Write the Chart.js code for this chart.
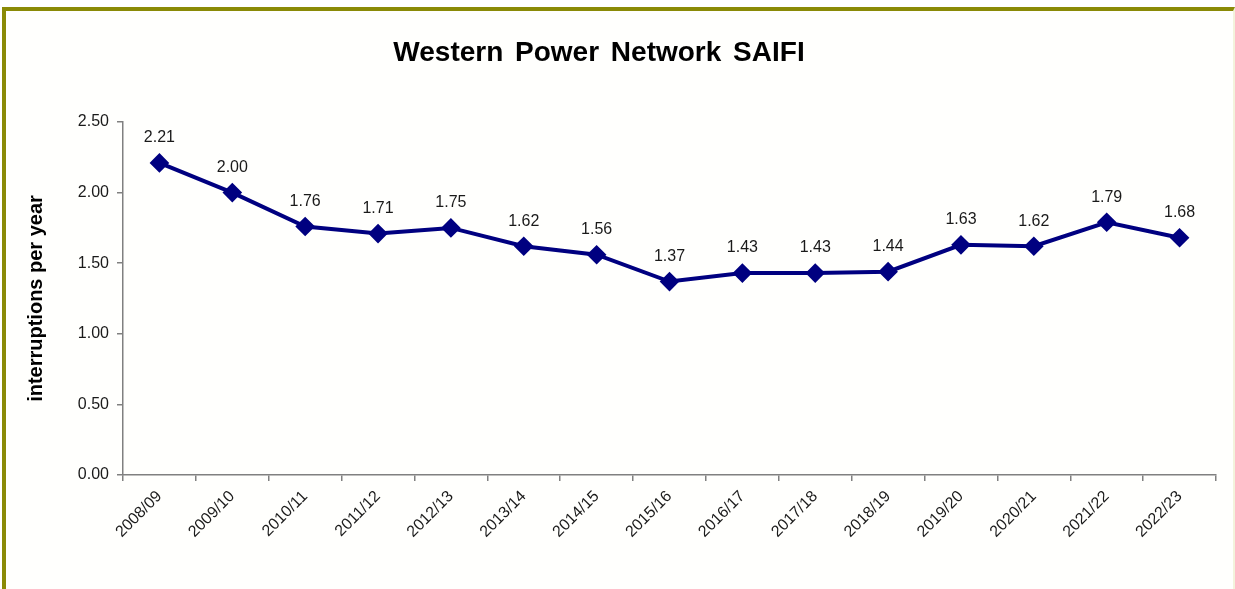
<!DOCTYPE html>
<html>
<head>
<meta charset="utf-8">
<script src="https://cdn.jsdelivr.net/npm/chart.js@4/dist/chart.umd.min.js"></script>
<style>
html,body{margin:0;padding:0;background:#ffffff;}
#frame{position:absolute;left:2px;top:7px;width:1227px;height:600px;border-left:4px solid #8a8a06;border-top:4px solid #8a8a06;border-right:2px solid #f3f3dc;background:#fffffd;}
#wrap{position:absolute;left:0;top:0;width:1235px;height:589px;}
</style>
</head>
<body>
<div id="frame"></div>
<div id="wrap"><canvas id="c" width="1235" height="589"></canvas></div>
<script>
const titleText = "Western Power Network SAIFI";
const yTitle = "interruptions per year";
const categories = ["2008/09","2009/10","2010/11","2011/12","2012/13","2013/14","2014/15","2015/16","2016/17","2017/18","2018/19","2019/20","2020/21","2021/22","2022/23"];
const saifi = [2.21,2.00,1.76,1.71,1.75,1.62,1.56,1.37,1.43,1.43,1.44,1.63,1.62,1.79,1.68];
const yTicks = [0,0.5,1,1.5,2,2.5];

const FONT = '"Liberation Sans", Arial, sans-serif';

const valueLabels = {
  id:'valueLabels',
  afterDatasetsDraw(chart){
    const ctx = chart.ctx;
    const meta = chart.getDatasetMeta(0);
    ctx.save();
    ctx.font = '16px ' + FONT;
    ctx.fillStyle = '#1a1a1a';
    ctx.textAlign = 'center';
    ctx.textBaseline = 'middle';
    meta.data.forEach((p,i)=>{
      ctx.fillText(saifi[i].toFixed(2), p.x, p.y - 25);
    });
    ctx.restore();
  }
};

const titleDraw = {
  id:'titleDraw',
  afterDraw(chart){
    const ctx = chart.ctx;
    ctx.save();
    ctx.font = 'bold 28px ' + FONT;
    ctx.fillStyle = '#000';
    ctx.textAlign = 'center';
    ctx.textBaseline = 'middle';
    ctx.wordSpacing = '4px';
    ctx.fillText(titleText, 599, 53);
    ctx.restore();
  }
};

new Chart(document.getElementById('c'), {
  type:'line',
  data:{labels:categories, datasets:[{
    data:saifi,
    borderColor:'#000080',
    backgroundColor:'#000080',
    borderWidth:4,
    pointStyle:'rectRot',
    pointRadius:7,
    pointHoverRadius:7,
    tension:0,
    fill:false
  }]},
  options:{
    responsive:false,
    animation:false,
    layout:{padding:{left:0,right:19,top:122,bottom:0}},
    plugins:{
      legend:{display:false},
      tooltip:{enabled:false},
      title:{display:false}
    },
    scales:{
      x:{
        offset:true,
        grid:{display:true,drawOnChartArea:false,offset:true,color:'#808080',tickLength:6,lineWidth:1.5},
        border:{display:true,color:'#808080',width:1.5},
        ticks:{color:'#1a1a1a',font:{family:FONT,size:16},maxRotation:45,minRotation:45,padding:6,autoSkip:false},
        afterFit(s){s.height=114;}
      },
      y:{
        min:0,max:2.5,
        afterBuildTicks(s){s.ticks=yTicks.map(v=>({value:v}));},
        grid:{display:true,drawOnChartArea:false,color:'#808080',tickLength:6,lineWidth:1.5},
        border:{display:true,color:'#808080',width:1.5},
        ticks:{color:'#1a1a1a',font:{family:FONT,size:16},padding:8,callback:v=>Number(v).toFixed(2)},
        title:{display:true,text:yTitle,color:'#000',
          font:{family:FONT,size:20,weight:'bold',lineHeight:1.2},
          padding:{top:24,bottom:0}},
        afterFit(s){s.width=123;}
      }
    }
  },
  plugins:[valueLabels,titleDraw]
});
</script>
</body>
</html>
